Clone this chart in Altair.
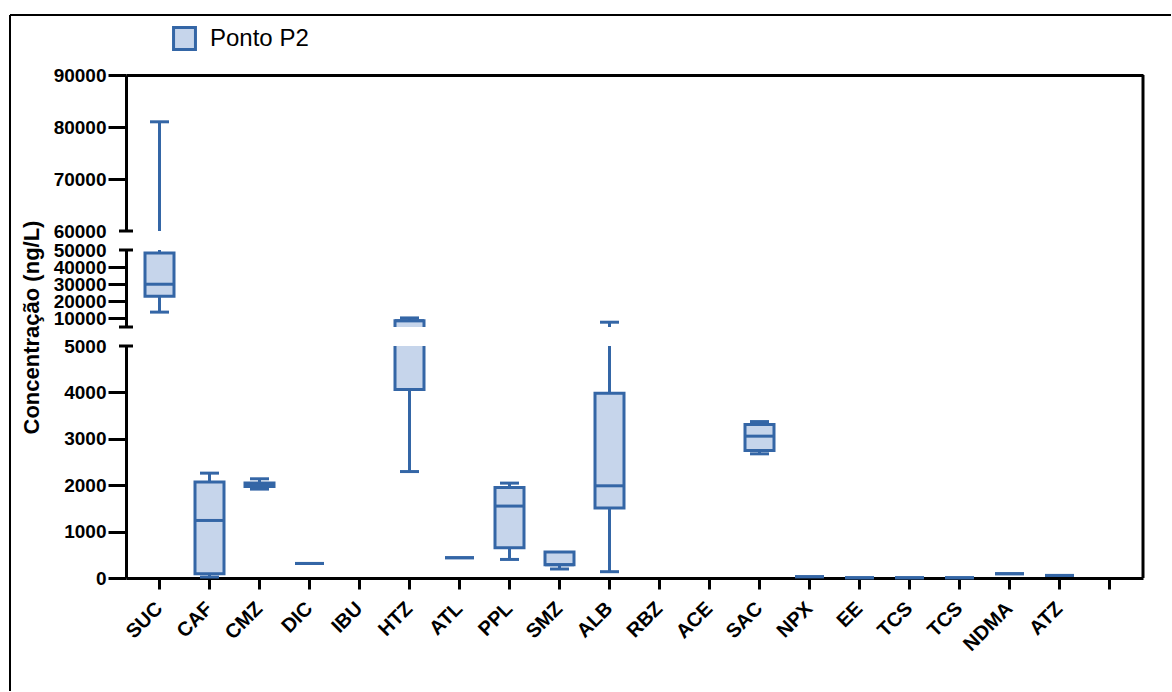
import json
import altair as alt
import pandas as pd

# Analytes on the x axis (the last slot is an empty category)
names = ["SUC", "CAF", "CMZ", "DIC", "IBU", "HTZ", "ATL", "PPL", "SMZ", "ALB",
         "RBZ", "ACE", "SAC", "NPX", "EE", "TCS", "TCS", "NDMA", "ATZ", ""]

# Box-plot statistics (ng/L): minimum, Q1, median, Q3, maximum
v_min = [13700, 20, 1916, 314, None, 2294, 437, 400, 194, 136,
         None, None, 2676, 28, 5, 5, 5, 92, 56, None]
v_q1 = [23000, 93, 1970, 314, None, 4060, 437, 652, 286, 1507,
        None, None, 2747, 28, 5, 5, 5, 92, 56, None]
v_med = [30000, 1240, 2000, 314, None, 8700, 437, 1550, 286, 1987,
         None, None, 3057, 28, 5, 5, 5, 92, 56, None]
v_q3 = [48200, 2067, 2045, 314, None, 8700, 437, 1950, 560, 3980,
        None, None, 3307, 28, 5, 5, 5, 92, 56, None]
v_max = [81000, 2260, 2138, 314, None, 10300, 437, 2045, 560, 7800,
         None, None, 3371, 28, 5, 5, 5, 92, 56, None]
series = "Ponto P2"

keys = [str(i) for i in range(len(names))]
rows = [
    dict(k=keys[i], serie=series, vmin=v_min[i], q1=v_q1[i], med=v_med[i],
         q3=v_q3[i], vmax=v_max[i])
    for i in range(len(names)) if v_min[i] is not None
]
df = pd.DataFrame(rows)

W = 1017
BLUE = "#3466a6"
LIGHT = "#c6d5eb"
FONT = "Liberation Sans"

x_scale = alt.Scale(domain=keys, paddingInner=0.36, paddingOuter=0.35)
label_expr = json.dumps(names) + "[toNumber(datum.value)]"

fill_enc = alt.Fill(
    "serie:N",
    scale=alt.Scale(range=[LIGHT]),
    legend=alt.Legend(
        orient="none", legendX=46, legendY=-49, title=None,
        symbolType="square", symbolSize=480, symbolStrokeColor=BLUE,
        symbolStrokeWidth=3, labelFont=FONT, labelFontSize=24,
        labelFontWeight="normal", labelColor="black", labelOffset=13,
    ),
)


def panel(lo, hi, height, ticks, hide, breaks, x_axis, title_opts=None, border=None):
    sc = alt.Scale(domain=[lo, hi], nice=False, zero=False)
    ax_kw = dict(
        values=ticks, format="d", labelOverlap=False, labelFontSize=19,
        labelPadding=2, tickSize=18,
        tickOpacity={"condition": {"test": f"datum.value == {hide}", "value": 0}, "value": 1},
    )
    if title_opts:
        ax_kw.update(title_opts)
    else:
        ax_kw["title"] = None
    ax = alt.Axis(**ax_kw)

    def y(field):
        return alt.Y(f"{field}:Q", scale=sc, axis=ax)

    x = alt.X("k:N", scale=x_scale, axis=x_axis)
    base = alt.Chart(df)

    inside = f"datum.q1 >= {lo} && datum.q3 <= {hi}"
    box_in = base.transform_filter(inside).mark_bar(
        size=29, stroke=BLUE, strokeWidth=3, opacity=1
    ).encode(x=x, y=y("q1"), y2="q3", fill=fill_enc)
    box_cut = base.transform_filter(
        f"datum.q3 >= {lo} && datum.q1 <= {hi} && !({inside})"
    ).mark_bar(size=29, stroke=BLUE, strokeWidth=3, opacity=1, clip=True).encode(
        x=x, y=y("q1"), y2="q3", fill=fill_enc)

    wl = base.transform_filter(
        f"datum.q1 > datum.vmin && datum.q1 >= {lo} && datum.vmin <= {hi}"
    ).mark_rule(color=BLUE, strokeWidth=3, clip=True).encode(x=x, y=y("vmin"), y2="q1")
    wh = base.transform_filter(
        f"datum.vmax > datum.q3 && datum.vmax >= {lo} && datum.q3 <= {hi}"
    ).mark_rule(color=BLUE, strokeWidth=3, clip=True).encode(x=x, y=y("q3"), y2="vmax")

    cap_lo = base.transform_filter(
        f"datum.vmin < datum.q1 && datum.vmin >= {lo} && datum.vmin <= {hi}"
    ).mark_tick(color=BLUE, size=19, thickness=3, opacity=1).encode(x=x, y=y("vmin"))
    cap_hi = base.transform_filter(
        f"datum.vmax > datum.q3 && datum.vmax >= {lo} && datum.vmax <= {hi}"
    ).mark_tick(color=BLUE, size=19, thickness=3, opacity=1).encode(x=x, y=y("vmax"))
    med = base.transform_filter(
        f"datum.med >= {lo} && datum.med <= {hi}"
    ).mark_tick(color=BLUE, size=29, thickness=3, opacity=1).encode(x=x, y=y("med"))

    # short marks crossing the y axis where it is broken
    brk = alt.Chart(pd.DataFrame({"b": breaks})).mark_rule(
        color="black", strokeWidth=3
    ).encode(y=y("b"), x=alt.value(-7), x2=alt.value(7))

    # right-hand frame line
    y0, y1 = border if border else (0, height)
    right = alt.Chart(pd.DataFrame({"z": [0]})).mark_rule(
        color="black", strokeWidth=3
    ).encode(x=alt.value(W), y=alt.value(y0), y2=alt.value(y1))

    layers = [box_in, box_cut, wl, wh, cap_lo, cap_hi, med, brk, right]
    return layers, height


# upper segment 60000-90000
top_axis = alt.Axis(orient="top", labels=False, ticks=False, domain=True, title=None)
top_layers, h_top = panel(60000, 90000, 156, [60000, 70000, 80000, 90000], 60000,
                          [60000], top_axis)
# outer figure frame (left and top edges)
frame = alt.Chart(pd.DataFrame({"z": [0]}))
frame_left = frame.mark_rule(color="black", strokeWidth=2).encode(
    x=alt.value(-116), y=alt.value(-60), y2=alt.value(616))
frame_top = frame.mark_rule(color="black", strokeWidth=2).encode(
    x=alt.value(-116), x2=alt.value(1045), y=alt.value(-60))
top = alt.layer(*top_layers, frame_left, frame_top).properties(width=W, height=h_top)

# middle segment 5000-50000
mid_layers, h_mid = panel(
    5000, 50000, 77, [10000, 20000, 30000, 40000, 50000], 50000, [5000, 50000], None,
    title_opts=dict(title="Concentração (ng/L)", titleFontSize=22, titleX=-83, titleY=77),
    border=(-19, 96),
)
mid = alt.layer(*mid_layers).properties(width=W, height=h_mid)

# lower segment 0-5000 with the category axis
bottom_axis = alt.Axis(
    title=None, labelExpr=label_expr, labelAngle=-45, labelFontSize=20,
    labelBaseline="middle", tickSize=11, labelPadding=16,
)
bot_layers, h_bot = panel(0, 5000, 232, [0, 1000, 2000, 3000, 4000, 5000], 5000,
                          [5000], bottom_axis)
bot = alt.layer(*bot_layers).properties(width=W, height=h_bot)

chart = alt.vconcat(top, mid, bot, spacing=19, bounds="flush").properties(
    padding={"left": 9, "top": 14, "right": 0, "bottom": 0}
).configure_view(strokeWidth=0).configure_axis(
    domainColor="black", domainWidth=3, tickColor="black", tickWidth=3,
    labelColor="black", labelFont=FONT, labelFontWeight="bold", grid=False,
    titleFont=FONT, titleFontWeight="bold", titleColor="black",
)

chart.save("out.html", embed_options={"renderer": "svg", "actions": False})
